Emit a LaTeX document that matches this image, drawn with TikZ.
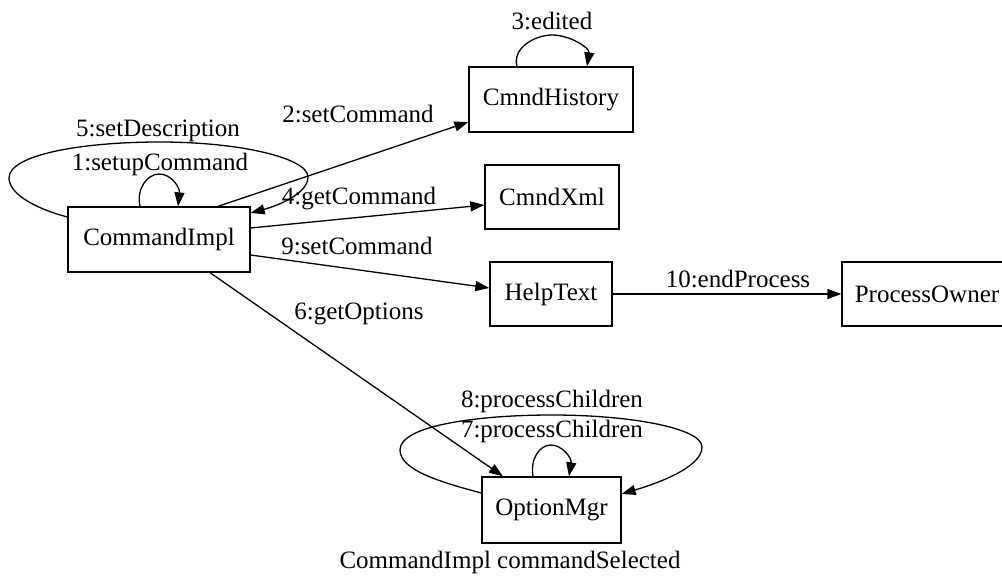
\documentclass[tikz,border=0pt]{standalone}
\usepackage{fontspec}
\setmainfont{Liberation Serif}
\usetikzlibrary{arrows.meta,calc}
\tikzset{
  obj/.style={draw, line width=1.3pt, inner sep=0pt, font=\fontsize{25}{30}\selectfont},
  msg/.style={font=\fontsize{25}{30}\selectfont, inner sep=0pt, anchor=base},
  conn/.style={line width=1.3pt, -{Triangle[length=14pt,width=10pt]}},
}
\begin{document}
\begin{tikzpicture}[x=1pt,y=-1pt]
\useasboundingbox (0,0) rectangle (1002,576);
\clip (0,0) rectangle (1002,576);

% objects
\node[obj, minimum width=182pt, minimum height=65pt] (ci) at (159,239.5) {CommandImpl};
\node[obj, minimum width=164pt, minimum height=65pt] (ch) at (551,99.5) {CmndHistory};
\node[obj, minimum width=134pt, minimum height=64pt] (cx) at (552,197) {CmndXml};
\node[obj, minimum width=122pt, minimum height=64pt] (ht) at (551,294) {HelpText};
\node[obj, minimum width=170pt, minimum height=64pt] (po) at (927,294) {ProcessOwner};
\node[obj, minimum width=139pt, minimum height=66pt] (om) at (551.5,510) {OptionMgr};

% messages
\draw[conn] ($(ci.north)+(-19,0)$) .. controls (136,188) and (148,174) .. (159,174)
  .. controls (172,174) and (180,188) .. ($(ci.north)+(19,0)$);
\draw[conn] ($(ci.north)+(59,0)$) -- ($(ch.west)+(0,22.5)$);
\draw[conn] ($(ch.north)+(-34,0)$) .. controls (512,48) and (535,35) .. (552,35)
  .. controls (570,35) and (590,48) .. ($(ch.north)+(36,0)$);
\draw[conn] ($(ci.east)+(0,-11.5)$) -- ($(cx.west)+(0,8)$);
\draw[conn] ($(ci.west)+(0,-22.5)$) .. controls (30,207) and (9,192) .. (9,178)
  .. controls (9,155) and (80,142) .. (160,142)
  .. controls (240,142) and (308,158) .. (308,177)
  .. controls (308,193) and (280,205) .. ($(ci.east)+(0,-26.5)$);
\draw[conn] ($(ci.south)+(51,0)$) -- ($(om.north)+(-48.5,0)$);
\draw[conn] ($(om.north)+(-18.5,0)$) .. controls (530,458) and (540,445) .. (551,445)
  .. controls (562,445) and (572,458) .. ($(om.north)+(17.5,0)$);
\draw[conn] ($(om.west)+(0,-17)$) .. controls (440,482) and (400,470) .. (400,450)
  .. controls (400,425) and (480,415) .. (552,415)
  .. controls (630,415) and (702,428) .. (702,447)
  .. controls (702,468) and (655,484) .. ($(om.east)+(0,-16)$);
\draw[conn] ($(ci.east)+(0,15.5)$) -- ($(ht.west)+(0,-6)$);
\draw[conn] (ht.east) -- (po.west);

% message labels
\node[msg] (l1) at (160,170) {1:setupCommand};
\node[msg] (l2) at (358,122) {2:setCommand};
\node[msg] (l3) at (552,29) {3:edited};
\node[msg] (l4) at (359,204) {4:getCommand};
\node[msg] (l5) at (158,136) {5:setDescription};
\node[msg] (l6) at (359,319) {6:getOptions};
\node[msg] (l7) at (552,437) {7:processChildren};
\node[msg] (l8) at (552,407) {8:processChildren};
\node[msg] (l9) at (357,254) {9:setCommand};
\node[msg] (l10) at (738,287) {10:endProcess};

% caption
\node[msg] (cap) at (510,568) {CommandImpl commandSelected};
\end{tikzpicture}
\end{document}
